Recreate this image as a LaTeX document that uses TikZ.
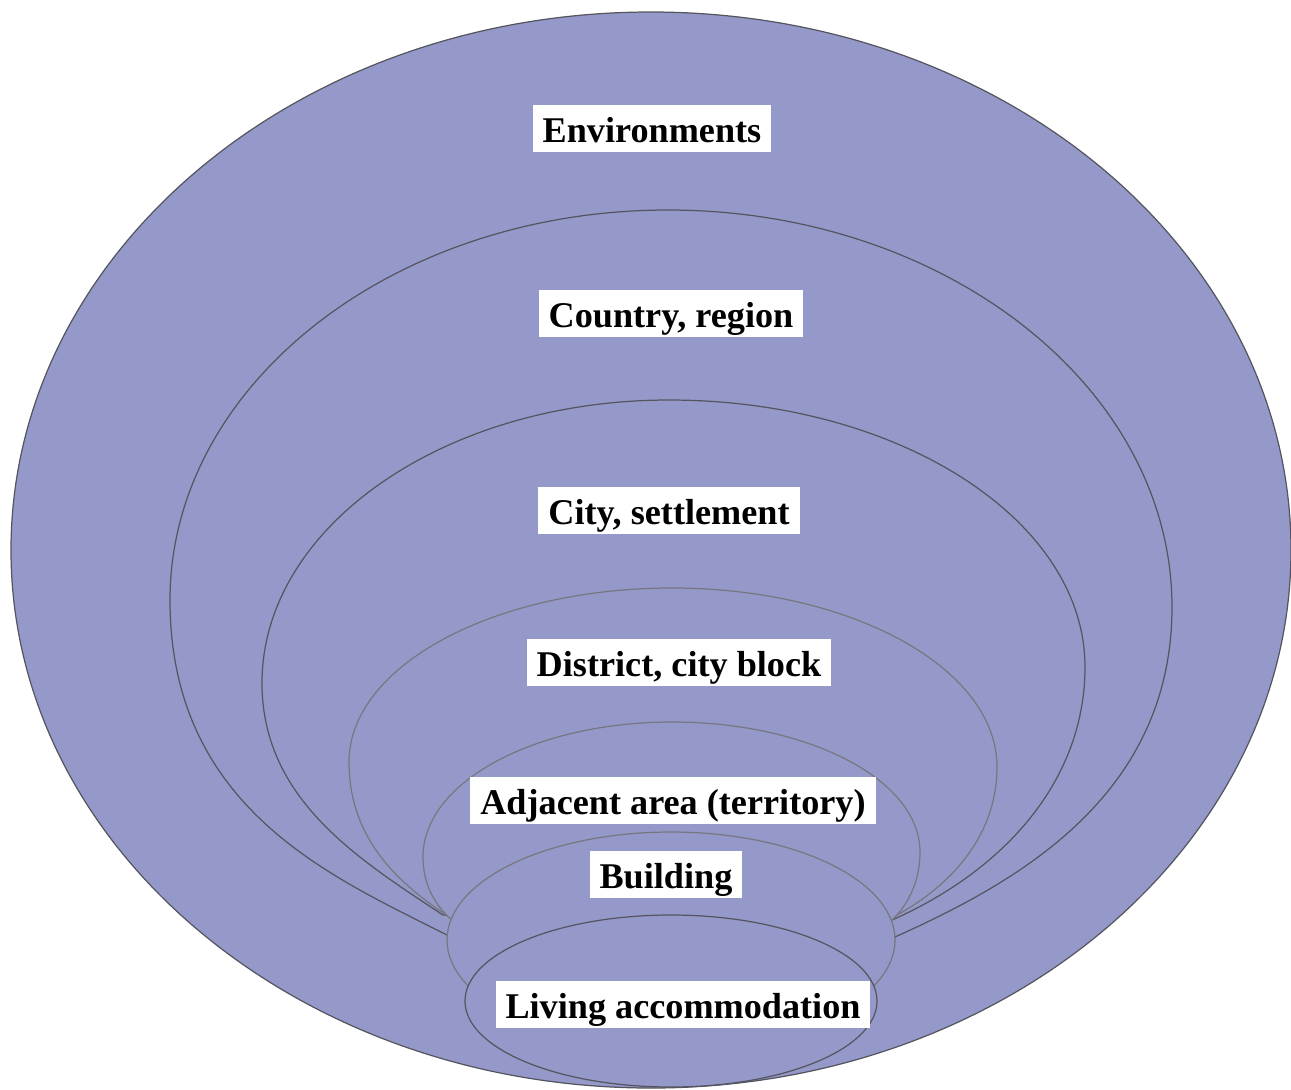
\documentclass[tikz,border=0pt]{standalone}
\usepackage{fontspec}
\setmainfont{Liberation Serif}
\definecolor{lavender}{RGB}{149,153,201}
\definecolor{rimgray}{RGB}{85,85,95}
\begin{document}
\begin{tikzpicture}[x=0.1mm,y=-0.1mm,
    zone/.style={fill=lavender,draw=rimgray,line width=0.35pt},
    inner zone/.style={zone,draw=rimgray!80},
    tag/.style={fill=white,font=\fontsize{10.3}{12}\selectfont\bfseries,
      inner xsep=1mm,inner ysep=0.75mm,text height=3mm,text depth=0.2mm}]
    \useasboundingbox (0,0) rectangle (1291,1089);
    % environments
    \path[zone] (651,550) ellipse (640 and 538);
    % country, region
    \path[zone] (447,935) .. controls (335,878) and (170,810) .. (170,600)
      .. controls (170,385) and (393,210) .. (668,210)
      .. controls (946,210) and (1172,388) .. (1172,607)
      .. controls (1172,800) and (1010,885) .. (895,937) -- cycle;
    % city, settlement
    \path[zone] (443,915) .. controls (360,860) and (262,800) .. (262,683)
      .. controls (262,527) and (444,400) .. (669,400)
      .. controls (899,400) and (1085,520) .. (1085,667)
      .. controls (1085,780) and (1005,870) .. (892,920) -- cycle;
    % district, city block
    \path[inner zone] (451,918) .. controls (400,885) and (349,840) .. (349,762)
      .. controls (349,666) and (494,588) .. (672,588)
      .. controls (851,588) and (997,668) .. (997,767)
      .. controls (997,840) and (945,890) .. (893,917) -- cycle;
    % adjacent area
    \path[inner zone] (453,921) .. controls (440,910) and (423,890) .. (423,857)
      .. controls (423,782) and (535,722) .. (672,722)
      .. controls (809,722) and (920,780) .. (920,852)
      .. controls (920,885) and (905,908) .. (892,920) -- cycle;
    % building, living accommodation
    \path[inner zone] (671,940) ellipse (224 and 108);
    \path[zone] (671,1001) ellipse (206 and 86);

    \node[tag] (env) at (652,128) {Environments};
    \node[tag] (country) at (671,313) {Country, region};
    \node[tag] (city) at (669,510) {City, settlement};
    \node[tag] (district) at (679,662) {District, city block};
    \node[tag] (adjacent) at (673,800) {Adjacent area (territory)};
    \node[tag] (building) at (666,874) {Building};
    \node[tag] (living) at (683,1004) {Living accommodation};
\end{tikzpicture}
\end{document}
